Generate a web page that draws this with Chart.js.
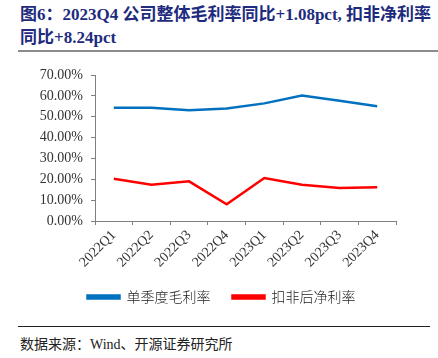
<!DOCTYPE html>
<html><head><meta charset="utf-8">
<script src="https://cdn.jsdelivr.net/npm/chart.js@4.4.0/dist/chart.umd.min.js"></script>
<style>
html,body{margin:0;padding:0;background:#fff;width:438px;height:358px;overflow:hidden;position:relative;}
#title{position:absolute;left:20px;top:3px;font:bold 17px "Liberation Serif","Noto Sans CJK SC",serif;color:#1e2b7e;line-height:23px;white-space:nowrap;}
#sep{position:absolute;left:18px;top:50px;width:420px;height:2px;background:#8c8c8c;}
#foot{position:absolute;left:18px;top:326px;width:412px;height:1px;background:#222;}
#src{position:absolute;left:20px;top:333px;font:14px "Liberation Serif","Noto Sans CJK SC",serif;color:#222;white-space:nowrap;}
#wrap{position:absolute;left:0;top:58px;width:438px;height:256px;}
</style></head>
<body>
<div id="title">图6：2023Q4 公司整体毛利率同比+1.08pct, 扣非净利率<br>同比+8.24pct</div>
<div id="sep"></div>
<div id="foot"></div>
<div id="src">数据来源：Wind、开源证券研究所</div>
<div id="wrap"><canvas id="c" width="438" height="256"></canvas></div>
<script>
const categories = ['2022Q1','2022Q2','2022Q3','2022Q4','2023Q1','2023Q2','2023Q3','2023Q4'];
const grossMargin = [54.3, 54.3, 53.1, 53.9, 56.4, 60.2, 57.7, 55.0];
const netMargin = [20.3, 17.4, 19.0, 8.0, 20.6, 17.4, 15.8, 16.2];
const seriesNames = ['单季度毛利率', '扣非后净利率'];
const yMin = 0, yMax = 70, yStep = 10;

new Chart(document.getElementById('c'), {
  type: 'line',
  data: {
    labels: categories,
    datasets: [
      {label: seriesNames[0], data: grossMargin, borderColor: '#0070C0', backgroundColor: '#0070C0', borderWidth: 2.5, pointRadius: 0, tension: 0},
      {label: seriesNames[1], data: netMargin, borderColor: '#FF0000', backgroundColor: '#FF0000', borderWidth: 2.5, pointRadius: 0, tension: 0}
    ]
  },
  options: {
    responsive: false,
    animation: false,
    devicePixelRatio: 1,
    layout: {padding: {left: 5, right: 0, top: 17, bottom: 0}},
    plugins: {
      tooltip: {enabled: false},
      legend: {
        position: 'bottom',
        labels: {boxWidth: 32, boxHeight: 3, padding: 22, color: '#222',
          font: {family: '"Noto Sans CJK SC", sans-serif', size: 14, weight: '300'}}
      }
    },
    scales: {
      x: {
        offset: true,
        grid: {offset: true, drawOnChartArea: false, drawTicks: true, tickLength: 4, color: '#808080'},
        border: {display: true, color: '#808080', width: 1},
        ticks: {minRotation: 45, maxRotation: 45, color: '#333', padding: 2,
          font: {family: '"Liberation Serif", serif', size: 14}},
        afterFit: s => { s.height = 47; }
      },
      y: {
        min: yMin, max: yMax,
        grid: {drawOnChartArea: false, drawTicks: true, tickLength: 4, color: '#808080'},
        border: {display: true, color: '#808080', width: 1},
        ticks: {stepSize: yStep, color: '#333', padding: 8,
          font: {family: '"Liberation Serif", serif', size: 14},
          callback: v => v.toFixed(2) + '%'},
        afterFit: s => { s.width = 90; }
      },
      dummy: {
        type: 'linear', position: 'right', display: true,
        grid: {display: false}, border: {display: false},
        ticks: {display: false},
        afterFit: s => { s.width = 42; }
      }
    }
  }
});
</script>
</body></html>
